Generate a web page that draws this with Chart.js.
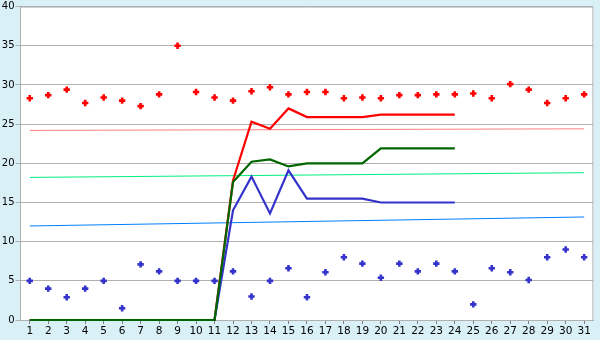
<!DOCTYPE html>
<html>
<head>
<meta charset="utf-8">
<script src="https://cdn.jsdelivr.net/npm/chart.js@4/dist/chart.umd.min.js"></script>
<style>
  body { margin: 0; background: #d9f0f7; }
  #wrap { width: 600px; height: 340px; }
</style>
</head>
<body>
<div id="wrap"><canvas id="chart" width="600" height="340"></canvas></div>
<script>
const days = [];
for (let d = 1; d <= 31; d++) days.push(String(d));

// scatter points
const redPoints = [28.3, 28.7, 29.4, 27.7, 28.4, 28.0, 27.3, 28.8, 35.0, 29.1,
  28.4, 28.0, 29.2, 29.7, 28.8, 29.1, 29.1, 28.3, 28.4, 28.3, 28.7,
  28.7, 28.8, 28.8, 28.9, 28.3, 30.1, 29.4, 27.7, 28.3, 28.8];
const bluePoints = [5.0, 4.0, 2.9, 4.0, 5.0, 1.5, 7.1, 6.2, 5.0, 5.0,
  5.0, 6.2, 3.0, 5.0, 6.6, 2.9, 6.1, 8.0, 7.2, 5.4, 7.2,
  6.2, 7.2, 6.2, 2.0, 6.6, 6.1, 5.1, 8.0, 9.0, 8.0];

// cumulative lines (days 1-24)
const redLine = [0, 0, 0, 0, 0, 0, 0, 0, 0, 0, 0,
  17.8, 25.3, 24.4, 27.0, 25.9, 25.9, 25.9, 25.9, 26.2, 26.2, 26.2, 26.2, 26.2];
const greenLine = [0, 0, 0, 0, 0, 0, 0, 0, 0, 0, 0,
  17.6, 20.2, 20.5, 19.6, 20.0, 20.0, 20.0, 20.0, 21.9, 21.9, 21.9, 21.9, 21.9];
const blueLine = [0, 0, 0, 0, 0, 0, 0, 0, 0, 0, 0,
  14.0, 18.3, 13.6, 19.1, 15.5, 15.5, 15.5, 15.5, 15.0, 15.0, 15.0, 15.0, 15.0];

// thin trend lines: value at day 1 and day 31
const pinkTrend = [24.2, 24.4];
const lightGreenTrend = [18.2, 18.8];
const lightBlueTrend = [12.0, 13.15];

const yTicks = [0, 5, 10, 15, 20, 25, 30, 35, 40];

function endsOnly(pair) {
  return days.map((d, i) => i === 0 ? pair[0] : (i === days.length - 1 ? pair[1] : null));
}

const plotBg = {
  id: 'plotBg',
  beforeDraw(chart) {
    const a = chart.chartArea, c = chart.ctx;
    c.save();
    c.fillStyle = '#ffffff';
    c.fillRect(a.left, a.top, a.right - a.left, a.bottom - a.top);
    c.restore();
  },
  afterDatasetsDraw(chart) {
    const a = chart.chartArea, c = chart.ctx;
    c.save();
    c.strokeStyle = '#b0b0b0';
    c.lineWidth = 1;
    c.beginPath();
    c.moveTo(a.left, a.top + 0.5);
    c.lineTo(a.right - 0.5, a.top + 0.5);
    c.lineTo(a.right - 0.5, a.bottom);
    c.stroke();
    c.restore();
  }
};

function trend(data, color) {
  return {
    data: endsOnly(data), borderColor: color, borderWidth: 1,
    pointRadius: 0, spanGaps: true, order: 5
  };
}

function scatter(data, color) {
  return {
    data: data, showLine: false, pointStyle: 'cross', pointRadius: 3.2,
    pointBorderWidth: 2.6, pointBorderColor: color, pointBackgroundColor: color,
    borderColor: color, order: 0
  };
}

function cumLine(data, color, ord) {
  return {
    data: data, borderColor: color, borderWidth: 2.2, pointRadius: 0, order: ord, clip: 4
  };
}

new Chart(document.getElementById('chart'), {
  type: 'line',
  data: {
    labels: days,
    datasets: [
      trend(pinkTrend, '#ff8080'),
      trend(lightGreenTrend, '#00f080'),
      trend(lightBlueTrend, '#0080ff'),
      cumLine(redLine, '#ff0000', 3),
      cumLine(blueLine, '#3333cc', 2),
      cumLine(greenLine, '#006600', 1),
      scatter(redPoints, '#ff0000'),
      scatter(bluePoints, '#3333cc')
    ]
  },
  options: {
    responsive: false,
    animation: false,
    devicePixelRatio: 1,
    layout: { padding: { top: 0, right: 5, left: 0, bottom: 0 } },
    plugins: { legend: { display: false }, tooltip: { enabled: false } },
    elements: { line: { tension: 0 } },
    scales: {
      x: {
        offset: true,
        grid: { drawOnChartArea: false, drawTicks: true, tickLength: 4, offset: false, color: '#808080' },
        border: { color: '#b0b0b0' },
        ticks: { color: '#000', font: { family: 'DejaVu Sans', size: 10.5 }, padding: 1, maxRotation: 0, autoSkip: false },
        afterFit(axis) { axis.height = 20; }
      },
      y: {
        min: 0, max: 40,
        afterBuildTicks(axis) { axis.ticks = yTicks.map(v => ({ value: v })); },
        grid: { color: '#b0b0b0', tickLength: 5 },
        border: { color: '#b0b0b0' },
        ticks: { color: '#000', font: { family: 'DejaVu Sans', size: 10 }, padding: 1 },
        afterFit(axis) { axis.width = 20.5; axis.paddingTop = 5; }
      }
    }
  },
  plugins: [plotBg]
});
</script>
</body>
</html>
